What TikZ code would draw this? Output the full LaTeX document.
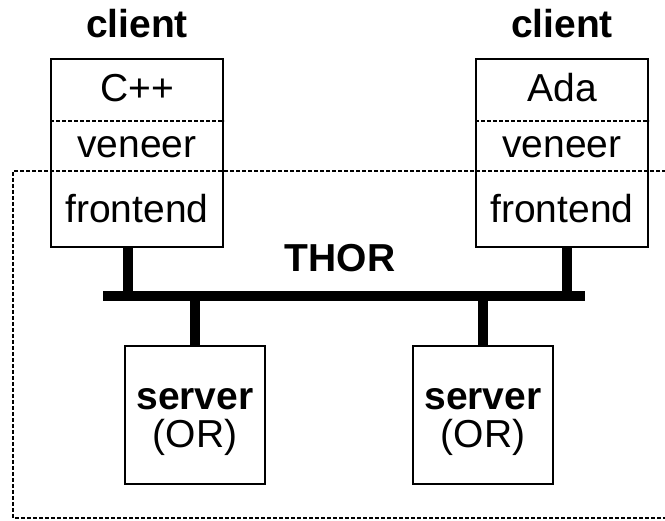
\documentclass[tikz,border=0pt]{standalone}
\usepackage{fontspec}
\setmainfont{Liberation Sans}
\usetikzlibrary{positioning}

\begin{document}
\begin{tikzpicture}[
    x=1pt, y=-1pt,
    font=\fontsize{39}{40}\selectfont,
    box/.style={draw, line width=2pt, inner sep=0pt, anchor=north west},
    txt/.style={anchor=base, inner sep=0pt},
    bold/.style={font=\fontsize{39}{40}\selectfont\bfseries},
    divider/.style={line width=2pt, dash pattern=on 4pt off 2pt},
    stem/.style={line width=10pt}
]
    \useasboundingbox (0,0) rectangle (665,521);
    % THOR boundary
    \draw[divider] (672,171) -| (13,518) -- (672,518);
    \coordinate (busw) at (103,296);
    \coordinate (buse) at (585,296);
    \draw[stem] (busw) -- (buse);
    \node[txt, bold] (thor) at (340,272) {THOR};
    % clients
    \foreach \n/\x/\lang/\s in {lc/50/C++/78, rc/475/Ada/92} {
        \node[box, minimum width=172, minimum height=188] (\n) at (\x,58) {};
        \node[txt, bold] (\n title) at ([yshift=20pt]\n.north) {client};
        \node[txt] (\n lang) at ([yshift=-44pt]\n.north) {\lang};
        \node[txt] (\n ven) at ([yshift=-100pt]\n.north) {veneer};
        \node[txt] (\n fe) at ([yshift=-165pt]\n.north) {frontend};
        \draw[divider] ([yshift=-63pt]\n.north west) -- ([yshift=-63pt]\n.north east);
        \draw[stem] ([xshift=\s pt]\n.south west) -- ([xshift=\s pt]\n.south west |- busw);
    }
    % servers
    \foreach \n/\x in {ls/124, rs/412} {
        \node[box, minimum width=140, minimum height=138] (\n) at (\x,345) {};
        \node[txt, bold] (\n name) at ([yshift=-65pt]\n.north) {server};
        \node[txt] (\n kind) at ([yshift=-103pt]\n.north) {(OR)};
        \draw[stem] (\n.north) -- (\n.north |- busw);
    }
\end{tikzpicture}
\end{document}
